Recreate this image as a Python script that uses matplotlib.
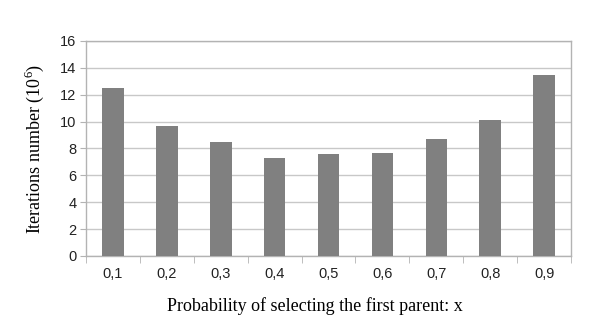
import numpy as np
import matplotlib.pyplot as plt

# data
labels = ['0,1', '0,2', '0,3', '0,4', '0,5', '0,6', '0,7', '0,8', '0,9']
iterations = [12.5, 9.7, 8.45, 7.3, 7.6, 7.7, 8.7, 10.1, 13.5]

plt.rcParams['mathtext.fontset'] = 'custom'
plt.rcParams['mathtext.rm'] = 'Liberation Serif'

fig = plt.figure(figsize=(5.94, 3.21), dpi=100)
ax = fig.add_axes([0.1448, 0.2025, 0.8165, 0.6698])

x = np.arange(len(labels))
ax.bar(x, iterations, width=0.4, color='#808080', zorder=3)

ax.set_xlim(-0.5, len(labels) - 0.5)
ax.set_ylim(0, 16)
ax.set_yticks(np.arange(0, 17, 2))
ax.set_xticks(x)
ax.set_xticklabels(labels)
ax.set_xticks(np.arange(-0.5, len(labels), 1), minor=True)

ax.grid(axis='y', color='#c8c8c8', linewidth=1, zorder=0)
for s in ax.spines.values():
    s.set_color('#b3b3b3')
    s.set_linewidth(1)

ax.tick_params(axis='x', which='major', length=0, pad=8,
               labelsize=10.5, labelcolor='#222222')
ax.tick_params(axis='x', which='minor', length=5, color='#b3b3b3')
ax.tick_params(axis='y', length=4, color='#b3b3b3', pad=3,
               labelsize=10.5, labelcolor='#222222')
for t in ax.get_xticklabels() + ax.get_yticklabels():
    t.set_family('Liberation Sans')

ax.set_xlabel('Probability of selecting the first parent: x',
              family='Liberation Serif', fontsize=13)
ax.xaxis.set_label_coords(0.472, -0.19)
ax.set_ylabel('Iterations number (10$^{6}$)',
              family='Liberation Serif', fontsize=13, labelpad=10)

fig.savefig('out.png', dpi=100)
